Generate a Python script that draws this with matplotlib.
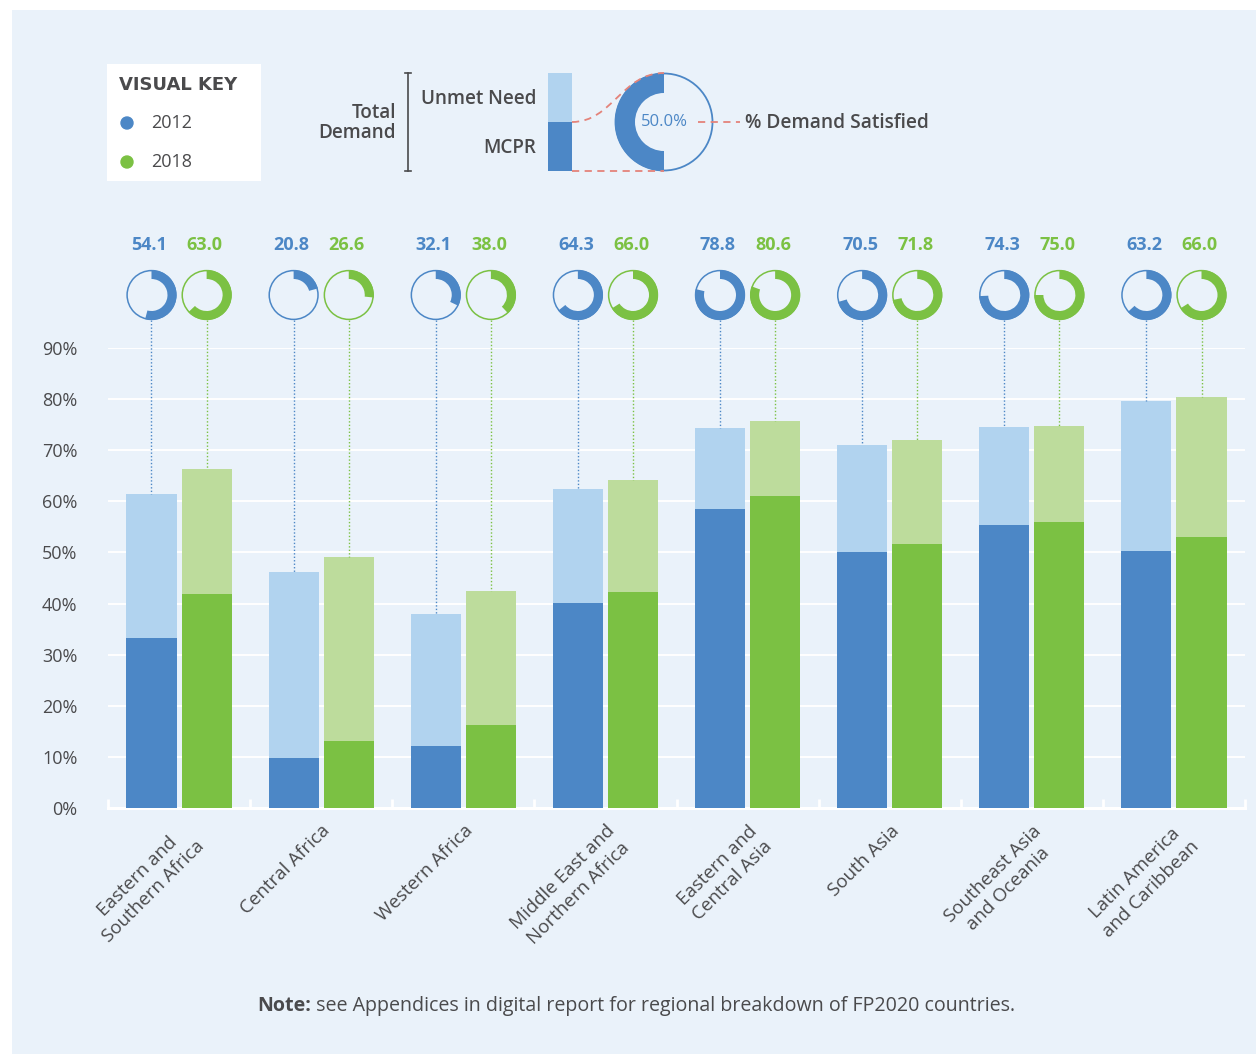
import matplotlib
matplotlib.use('Agg')
import matplotlib.pyplot as plt
from matplotlib.patches import Wedge, Circle, Rectangle, PathPatch
from matplotlib.path import Path
import numpy as np

plt.rcParams['font.family'] = ['Open Sans', 'DejaVu Sans']

regions = ['Eastern and\nSouthern Africa', 'Central Africa', 'Western Africa',
           'Middle East and\nNorthern Africa', 'Eastern and\nCentral Asia', 'South Asia',
           'Southeast Asia\nand Oceania', 'Latin America\nand Caribbean']
mcpr_2012 = [33.3, 9.8, 12.1, 40.1, 58.5, 50.1, 55.4, 50.3]
total_2012 = [61.4, 46.2, 38.0, 62.4, 74.4, 71.0, 74.6, 79.6]
mcpr_2018 = [41.9, 13.1, 16.2, 42.3, 61.1, 51.7, 56.0, 53.0]
total_2018 = [66.3, 49.1, 42.5, 64.2, 75.7, 72.0, 74.8, 80.4]
satisfied_2012 = [54.1, 20.8, 32.1, 64.3, 78.8, 70.5, 74.3, 63.2]
satisfied_2018 = [63.0, 26.6, 38.0, 66.0, 80.6, 71.8, 75.0, 66.0]
yticks = list(range(0, 100, 10))

PANEL = '#EAF2FA'
BLUE = '#4C87C6'
LBLUE = '#B1D3EF'
GREEN = '#7BC143'
LGREEN = '#BDDC9C'
TEXT = '#4A4A4C'
RED = '#E4837A'

W, H = 1256, 1054
fig = plt.figure(figsize=(W / 100, H / 100), dpi=100)
fig.patch.set_facecolor('white')
fig.add_artist(Rectangle((12 / W, 0), 1 - 12 / W, 1 - 10 / H, transform=fig.transFigure,
                         facecolor=PANEL, edgecolor='none', zorder=-10))

# main bar chart
ax = fig.add_axes([108 / W, (H - 808) / H, 1137 / W, 460 / H])
ax.set_xlim(-0.5, 7.5)
ax.set_ylim(0, 90)
ax.patch.set_visible(False)
for s in ax.spines.values():
    s.set_visible(False)

for t in yticks[1:]:
    ax.axhline(t, color='white', lw=1.4, zorder=0.5)
ax.axhline(0, color='white', lw=2.2, zorder=0.5, clip_on=False)
ax.vlines(np.arange(-0.5, 8, 1), 0, 1.8, color='white', lw=2, zorder=0.5, clip_on=False)

x = np.arange(len(regions))
off, bw = 0.194, 0.352
ax.bar(x - off, mcpr_2012, bw, color=BLUE, zorder=2)
ax.bar(x - off, np.subtract(total_2012, mcpr_2012), bw, bottom=mcpr_2012, color=LBLUE, zorder=2)
ax.bar(x + off, mcpr_2018, bw, color=GREEN, zorder=2)
ax.bar(x + off, np.subtract(total_2018, mcpr_2018), bw, bottom=mcpr_2018, color=LGREEN, zorder=2)

ax.set_yticks(yticks, [f'{t}%' for t in yticks])
ax.tick_params(axis='y', length=0, pad=22, labelsize=13, labelcolor=TEXT)
ax.set_xticks(x, regions)
ax.tick_params(axis='x', length=0, pad=10, labelsize=13.5, labelcolor=TEXT)
for lab in ax.get_xticklabels():
    lab.set_rotation(45)
    lab.set_ha('right')
    lab.set_va('top')
    lab.set_rotation_mode('anchor')
    lab.set_multialignment('center')
    lab.set_linespacing(1.3)

# overlay in pixel units (y measured from the bottom)
ov = fig.add_axes([0, 0, 1, 1], zorder=5)
ov.set_xlim(0, W)
ov.set_ylim(0, H)
ov.axis('off')


def Y(y):
    return H - y


def to_px(xd, yd):
    return ov.transData.inverted().transform(ax.transData.transform((xd, yd)))


# donut per bar: filled arc clockwise from 12 o'clock = % demand satisfied
DY, R, RW = 295, 25, 9
for i in range(len(regions)):
    for xd, pct, top, col in ((i - off, satisfied_2012[i], total_2012[i], BLUE),
                              (i + off, satisfied_2018[i], total_2018[i], GREEN)):
        px, py = to_px(xd, top)
        ov.add_patch(Circle((px, Y(DY)), R - 0.6, fill=False, ec=col, lw=1.1))
        ov.add_patch(Wedge((px, Y(DY)), R, 90 - 3.6 * pct, 90, width=RW, color=col, lw=0))
        ov.plot([px, px], [Y(DY + R), py], ls=(0, (1, 1.5)), color=col, lw=1)
        ov.text(px - 2, Y(245), f'{pct:.1f}', color=col, fontsize=13, fontweight='bold',
                ha='center', va='center')

# visual key box
ov.add_patch(Rectangle((107, Y(181)), 154, 117, facecolor='white', edgecolor='none'))
ov.text(119, Y(85), 'VISUAL KEY', fontsize=13, fontweight='bold', color=TEXT, va='center',
        family='DejaVu Sans')
ov.add_patch(Circle((127, Y(123)), 6, color=BLUE))
ov.add_patch(Circle((127, Y(162)), 6, color=GREEN))
ov.text(151, Y(123), '2012', fontsize=13, color=TEXT, va='center')
ov.text(151, Y(162), '2018', fontsize=13, color=TEXT, va='center')

# total demand explainer
ov.plot([408, 408], [Y(73), Y(171)], color=TEXT, lw=1.2)
ov.plot([405, 411], [Y(73), Y(73)], color=TEXT, lw=1.2)
ov.plot([405, 411], [Y(171), Y(171)], color=TEXT, lw=1.2)
ov.text(396, Y(123), 'Total\nDemand', fontsize=13.6, fontweight='semibold', color=TEXT,
        ha='right', va='center', multialignment='right', linespacing=1.05)
ov.text(536, Y(99), 'Unmet Need', fontsize=13.6, fontweight='semibold', color=TEXT,
        ha='right', va='center')
ov.text(536, Y(148), 'MCPR', fontsize=13.6, fontweight='semibold', color=TEXT,
        ha='right', va='center')
ov.add_patch(Rectangle((548, Y(122)), 24, 49, color=LBLUE, lw=0))
ov.add_patch(Rectangle((548, Y(171)), 24, 49, color=BLUE, lw=0))

kc = (664, Y(122))
ov.add_patch(Circle(kc, 48.5, fill=False, ec=BLUE, lw=1.3))
ov.add_patch(Wedge(kc, 49, 90, 270, width=20, color=BLUE, lw=0))
ov.text(664, Y(122), '50.0%', fontsize=12, color=BLUE, ha='center', va='center')

curve = Path([(572, Y(122)), (612, Y(122)), (622, Y(73)), (664, Y(73))],
             [Path.MOVETO, Path.CURVE4, Path.CURVE4, Path.CURVE4])
ov.add_patch(PathPatch(curve, fill=False, ec=RED, lw=1.3, ls=(0, (4, 3))))
ov.plot([572, 664], [Y(171), Y(171)], color=RED, lw=1.3, ls=(0, (4, 3)))
ov.plot([698, 740], [Y(122), Y(122)], color=RED, lw=1.3, ls=(0, (4, 3)))
ov.text(745, Y(123), '% Demand Satisfied', fontsize=13.8, fontweight='semibold', color=TEXT,
        va='center')

# footnote
note = ov.text(257, Y(1006), 'Note:', fontsize=14.1, fontweight='bold', color=TEXT, va='center')
ov.annotate(' see Appendices in digital report for regional breakdown of FP2020 countries.',
            xy=(1, 0), xycoords=note, va='bottom', fontsize=14.1, color=TEXT)

fig.savefig('out.png', dpi=100, facecolor=fig.get_facecolor())
